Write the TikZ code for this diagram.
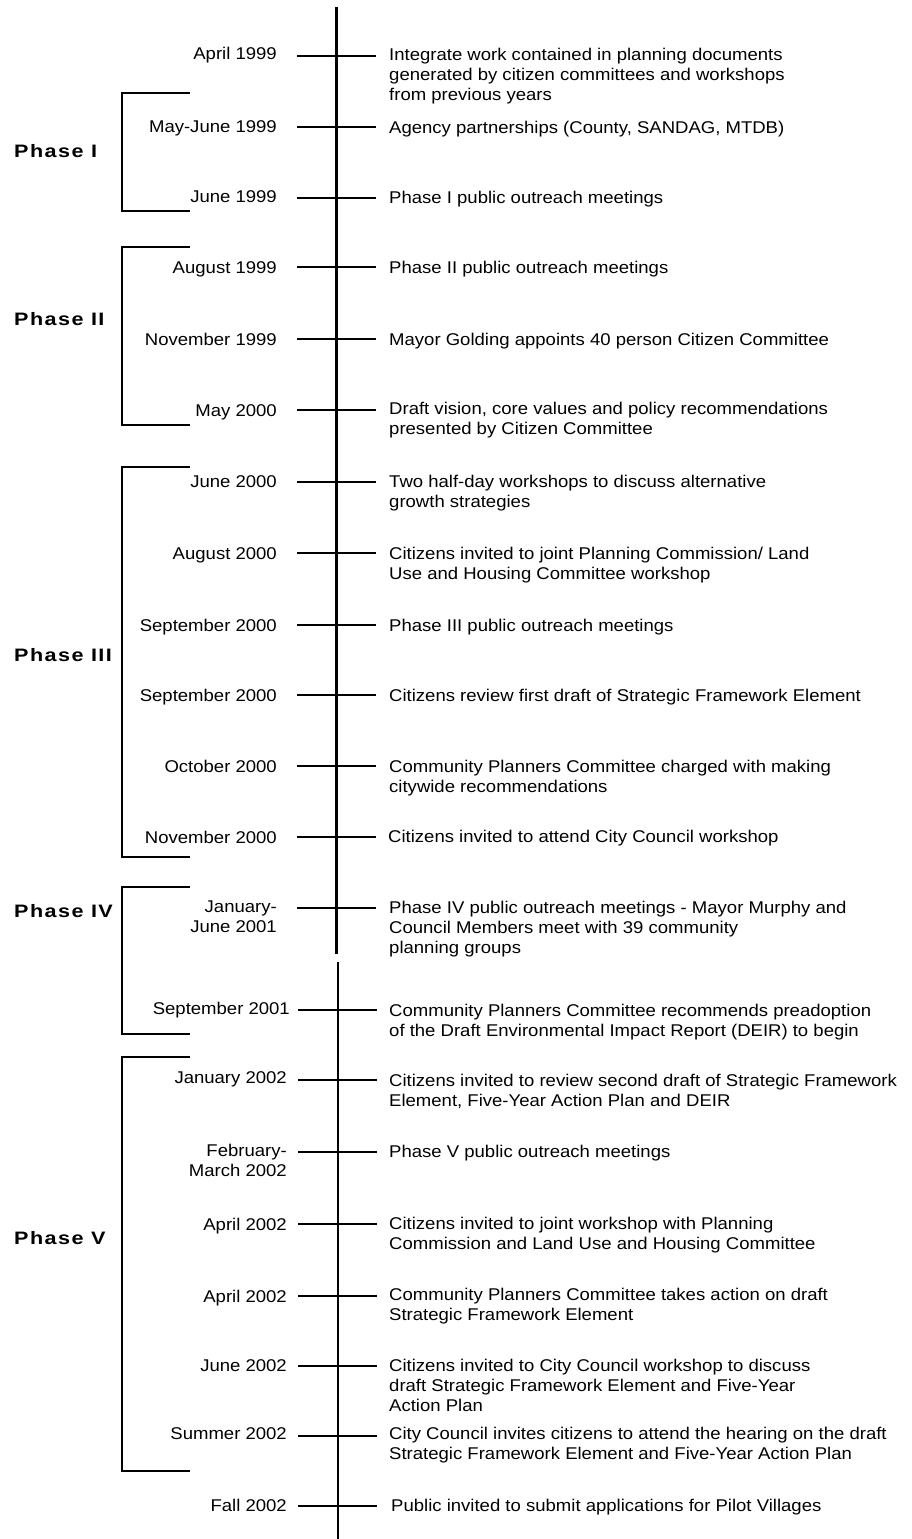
\documentclass[tikz,border=0pt]{standalone}
\usepackage{fontspec}
\setmainfont[FakeStretch=1.09]{Liberation Sans}
\newfontfamily\phasefont[FakeStretch=1.2,LetterSpace=8]{Liberation Sans}
\begin{document}
\begin{tikzpicture}[x=1pt,y=-1pt,
  date/.style={anchor=north east, align=right, inner sep=0pt, font=\fontsize{17}{20}\selectfont},
  desc/.style={anchor=north west, align=left, inner sep=0pt, font=\fontsize{17}{20}\selectfont},
  phase/.style={anchor=west, inner sep=0pt, font=\fontsize{18}{20}\phasefont\bfseries},
  tick/.style={line width=2.6pt},
  spineA/.style={line width=2.6pt},
  spineB/.style={line width=1.6pt},
  bracket/.style={line width=2.8pt}]
\useasboundingbox (0,0) rectangle (911,1539);
% spine
\coordinate (sa1) at (336.5,7); \coordinate (sa2) at (336.5,954);
\coordinate (sb1) at (338,962); \coordinate (sb2) at (338,1539);
\draw[spineA] (sa1) -- (sa2);
\draw[spineB] (sb1) -- (sb2);
% ticks
\foreach \y in {56,127,198,267,339,410,482,553,625,695,766,837,908}
  {\draw[tick] (297,\y) -- (376,\y);}
\foreach \y in {1010,1080,1152,1224,1296,1366,1436,1506}
  {\draw[tick] (298,\y) -- (377,\y);}
% brackets
\draw[bracket] (190,93) -| (122,211) -- (190,211);
\draw[bracket] (190,247) -| (122,425) -- (190,425);
\draw[bracket] (190,467) -| (122,857) -- (190,857);
\draw[bracket] (190,887) -| (122,1034) -- (190,1034);
\draw[bracket] (190,1057) -| (122,1471) -- (190,1471);
% phases
\node[phase] (p1) at (14,151) {Phase I};
\node[phase] (p2) at (14,319) {Phase II};
\node[phase] (p3) at (14,655) {Phase III};
\node[phase] (p4) at (14,911) {Phase IV};
\node[phase] (p5) at (14,1238) {Phase V};
% dates (upper)
\node[date] (d1) at (277,47) {April 1999};
\node[date] (d2) at (277,120.5) {May-June 1999};
\node[date] (d3) at (277,190.5) {June 1999};
\node[date] (d4) at (277,261) {August 1999};
\node[date] (d5) at (277,332.5) {November 1999};
\node[date] (d6) at (277,404) {May 2000};
\node[date] (d7) at (277,475) {June 2000};
\node[date] (d8) at (277,547) {August 2000};
\node[date] (d9) at (277,618.5) {September 2000};
\node[date] (d10) at (277,688.5) {September 2000};
\node[date] (d11) at (277,759.5) {October 2000};
\node[date] (d12) at (277,830.5) {November 2000};
\node[date] (d13) at (277,900.5) {January-\\June 2001};
% dates (lower)
\node[date] (d14) at (290,1001.5) {September 2001};
\node[date] (d15) at (287,1071.5) {January 2002};
\node[date] (d16) at (287,1143.5) {February-\\March 2002};
\node[date] (d17) at (287,1217.5) {April 2002};
\node[date] (d18) at (287,1289.5) {April 2002};
\node[date] (d19) at (287,1359) {June 2002};
\node[date] (d20) at (287,1427.5) {Summer 2002};
\node[date] (d21) at (287,1498.5) {Fall 2002};
% descriptions
\node[desc] (e1) at (389,47.5) {Integrate work contained in planning documents\\generated by citizen committees and workshops\\from previous years};
\node[desc] (e2) at (389,120.5) {Agency partnerships (County, SANDAG, MTDB)};
\node[desc] (e3) at (389,190.5) {Phase I public outreach meetings};
\node[desc] (e4) at (389,260.5) {Phase II public outreach meetings};
\node[desc] (e5) at (389,332.5) {Mayor Golding appoints 40 person Citizen Committee};
\node[desc] (e6) at (389,401.5) {Draft vision, core values and policy recommendations\\presented by Citizen Committee};
\node[desc] (e7) at (389,475) {Two half-day workshops to discuss alternative\\growth strategies};
\node[desc] (e8) at (389,546.5) {Citizens invited to joint Planning Commission/ Land\\Use and Housing Committee workshop};
\node[desc] (e9) at (389,618.5) {Phase III public outreach meetings};
\node[desc] (e10) at (389,688.5) {Citizens review first draft of Strategic Framework Element};
\node[desc] (e11) at (389,759.5) {Community Planners Committee charged with making\\citywide recommendations};
\node[desc] (e12) at (388,830) {Citizens invited to attend City Council workshop};
\node[desc] (e13) at (389,900.5) {Phase IV public outreach meetings - Mayor Murphy and\\Council Members meet with 39 community\\planning groups};
\node[desc] (e14) at (389,1003.5) {Community Planners Committee recommends preadoption\\of the Draft Environmental Impact Report (DEIR) to begin};
\node[desc] (e15) at (389,1073.5) {Citizens invited to review second draft of Strategic Framework\\Element, Five-Year Action Plan and DEIR};
\node[desc] (e16) at (389,1144.5) {Phase V public outreach meetings};
\node[desc] (e17) at (389,1216.5) {Citizens invited to joint workshop with Planning\\Commission and Land Use and Housing Committee};
\node[desc] (e18) at (389,1287.5) {Community Planners Committee takes action on draft\\Strategic Framework Element};
\node[desc] (e19) at (389,1358.5) {Citizens invited to City Council workshop to discuss\\draft Strategic Framework Element and Five-Year\\Action Plan};
\node[desc] (e20) at (389,1426.5) {City Council invites citizens to attend the hearing on the draft\\Strategic Framework Element and Five-Year Action Plan};
\node[desc] (e21) at (391,1499) {Public invited to submit applications for Pilot Villages};
\end{tikzpicture}
\end{document}
